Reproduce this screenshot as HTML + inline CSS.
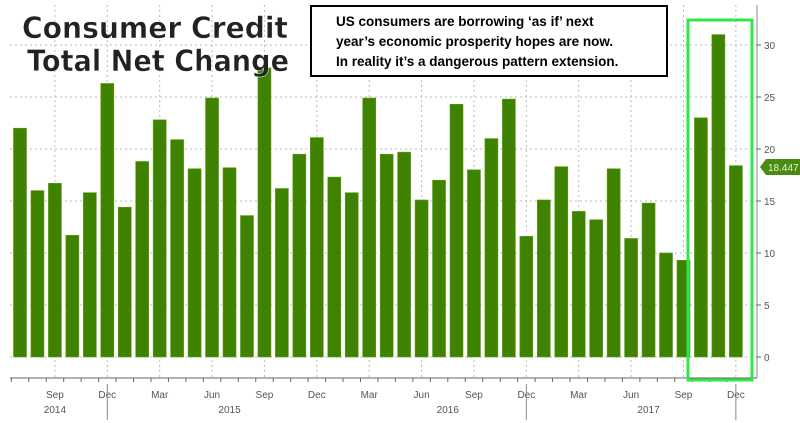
<!DOCTYPE html>
<html><head><style>body{margin:0;background:#fff}svg{display:block}</style></head><body>
<svg width="800" height="423" xmlns="http://www.w3.org/2000/svg" font-family="Liberation Sans, sans-serif">
<rect width="800" height="423" fill="#fff"/>
<g id="grid" stroke="#bbb" stroke-dasharray="2,3" stroke-width="1"></g>
<g id="bars"></g>
<line x1="757" y1="5" x2="757" y2="378" stroke="#888"/>
<line x1="10" y1="378" x2="757" y2="378" stroke="#666"/>
<g id="ax" font-size="10" fill="#555"></g>
<rect x="688" y="20" width="64" height="360" fill="none" stroke="#2ee84a" stroke-width="3"/>
<path d="M760 167 l6 -8 h34 v16 h-34 z" fill="#4a8a10"/>
<text x="768" y="171" font-size="10" fill="#e8f5d0">18.447</text>
<g font-family="DejaVu Sans, sans-serif" font-weight="bold" font-size="29" fill="#222" stroke="#fff" stroke-width="0.5">
<text x="22" y="38" textLength="266" lengthAdjust="spacingAndGlyphs">Consumer Credit</text>
<text x="27" y="71" textLength="262" lengthAdjust="spacingAndGlyphs">Total Net Change</text>
</g>
<rect x="311" y="6" width="356" height="70" fill="#fff" stroke="#000" stroke-width="2"/>
<g font-size="13.5" font-weight="bold" fill="#000">
<text x="336" y="26">US consumers are borrowing ‘as if’ next</text>
<text x="336" y="46">year’s economic prosperity hopes are now.</text>
<text x="336" y="66">In reality it’s a dangerous pattern extension.</text>
</g>
<script>
const v=[22,16,16.7,11.7,15.8,26.3,14.4,18.8,22.8,20.9,18.1,24.9,18.2,13.6,27.8,16.2,19.5,21.1,17.3,15.8,24.9,19.5,19.7,15.1,17,24.3,18,21,24.8,11.6,15.1,18.3,14,13.2,18.1,11.4,14.8,10,9.3,23,31,18.4];
const ns="http://www.w3.org/2000/svg";
function el(t,a,p){const e=document.createElementNS(ns,t);for(const k in a)e.setAttribute(k,a[k]);document.getElementById(p).appendChild(e);return e;}
const y0=357,k=10.4;
for(let g=0;g<=30;g+=5){const y=y0-g*k;el('line',{x1:10,y1:y,x2:757,y2:y},'grid');
el('line',{x1:757,y1:y,x2:761,y2:y,stroke:'#666'},'ax');const t=el('text',{x:764,y:y+4},'ax');t.textContent=g;}
const cx=i=>20+17.46*i;
const mons=['Sep','Dec','Mar','Jun'];
for(let i=2,m=0;i<42;i+=3,m++){el('line',{x1:cx(i),y1:5,x2:cx(i),y2:378},'grid');
const t=el('text',{x:cx(i),y:398,'text-anchor':'middle'},'ax');t.textContent=mons[m%4];}
for(let i=0;i<42;i++){el('line',{x1:cx(i)-8.7,y1:378,x2:cx(i)-8.7,y2:382,stroke:'#666'},'ax');
const h=v[i]*k;el('rect',{x:cx(i)-6.5,y:y0-h,width:13,height:h,fill:'#3f8200',stroke:'#5aa010','stroke-width':0.6},'bars');}
[[2,'2014'],[12,'2015'],[24.5,'2016'],[36,'2017']].forEach(([i,s])=>{const t=el('text',{x:cx(i),y:413,'text-anchor':'middle'},'ax');t.textContent=s;});
[5,29,41].forEach(i=>el('line',{x1:cx(i),y1:384,x2:cx(i),y2:420,stroke:'#888'},'ax'));
</script>
</svg>
</body></html>
